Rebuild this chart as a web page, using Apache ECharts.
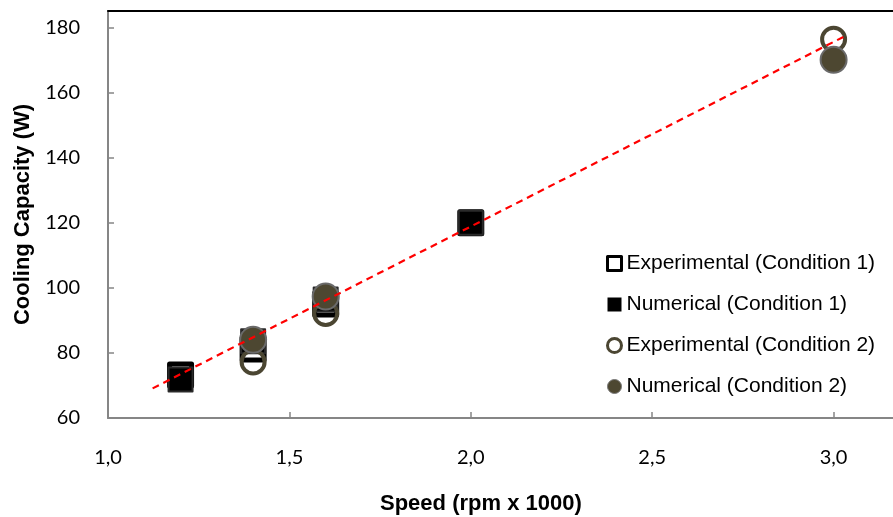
<!DOCTYPE html>
<html>
<head>
<meta charset="utf-8">
<script src="https://cdn.jsdelivr.net/npm/echarts@6.0.0/dist/echarts.min.js"></script>
<style>
  html, body { margin: 0; padding: 0; background: #fff; }
  #chart { width: 893px; height: 517px; }
</style>
</head>
<body>
<div id="chart"></div>
<script>
// speed in rpm x 1000, cooling capacity in W
const speed1 = [1.2, 1.4, 1.6, 2.0];
const expCond1 = [73.2, 81.2, 95.0, 120];
const numCond1 = [71.8, 83.6, 96.4, 120];

const speed2 = [1.4, 1.6, 3.0];
const expCond2 = [77.2, 92.1, 176.3];
const numCond2 = [84.0, 97.3, 170.0];

// linear trend line ends
const trendX = [1.123, 3.037];
const trendY = [69.1, 177.6];

const yTicks = { min: 60, max: 185, step: 20 };
const xTicks = { min: 1.0, max: 3.5, step: 0.5 };

const chart = echarts.init(document.getElementById('chart'));

const pairs = (xs, ys) => xs.map((x, i) => [x, ys[i]]);
const olive = '#4b4632';

const option = {
  animation: false,
  grid: { left: 108, top: 11, width: 907, height: 407, containLabel: false, outerBoundsMode: 'none' },
  legend: {
    orient: 'vertical',
    left: 606,
    top: 253,
    padding: 0,
    itemWidth: 14,
    itemHeight: 14,
    itemGap: 20,
    textStyle: { fontFamily: '"Liberation Sans", Arial, sans-serif', fontSize: 21, color: '#000' },
    data: [
      { name: 'Experimental (Condition 1)', icon: 'rect', itemStyle: { color: '#fff', borderColor: '#000', borderWidth: 3 } },
      { name: 'Numerical (Condition 1)', icon: 'rect', itemStyle: { color: '#000', borderWidth: 0 } },
      { name: 'Experimental (Condition 2)', icon: 'circle', itemStyle: { color: '#fff', borderColor: olive, borderWidth: 3 } },
      { name: 'Numerical (Condition 2)', icon: 'circle', itemStyle: { color: '#4d4731', borderColor: '#777', borderWidth: 1 } }
    ]
  },
  xAxis: [
    {
      type: 'value',
      min: xTicks.min,
      max: xTicks.max,
      interval: xTicks.step,
      splitLine: { show: false },
      axisLine: { lineStyle: { color: '#868686', width: 2 } },
      axisTick: { inside: true, length: 6, lineStyle: { color: '#868686', width: 1.5 } },
      axisLabel: {
        margin: 30,
        fontFamily: 'Lato',
        fontSize: 20,
        color: '#000',
        formatter: v => v.toFixed(1).replace('.', ',')
      }
    },
    {
      // top frame line
      type: 'value',
      position: 'top',
      min: xTicks.min,
      max: xTicks.max,
      splitLine: { show: false },
      axisLine: { lineStyle: { color: '#000', width: 2 } },
      axisTick: { show: false },
      axisLabel: { show: false }
    }
  ],
  yAxis: {
    type: 'value',
    min: yTicks.min,
    max: yTicks.max,
    interval: yTicks.step,
    splitLine: { show: false },
    axisLine: { show: true, lineStyle: { color: '#868686', width: 2 } },
    axisTick: { show: true, inside: true, length: 6, lineStyle: { color: '#868686', width: 1.5 } },
    axisLabel: {
      margin: 28,
      fontFamily: 'Lato',
      fontSize: 20,
      color: '#000',
      showMaxLabel: false
    },
    name: 'Cooling Capacity (W)',
    nameLocation: 'middle',
    nameRotate: 90,
    nameGap: 73,
    nameTextStyle: { fontFamily: '"Liberation Sans", Arial, sans-serif', fontWeight: 'bold', fontSize: 22, color: '#000' }
  },
  graphic: [
    {
      type: 'text',
      left: 380,
      top: 493,
      style: {
        text: 'Speed (rpm x 1000)',
        font: 'bold 22px "Liberation Sans", Arial',
        fill: '#000'
      }
    }
  ],
  series: [
    {
      name: 'Experimental (Condition 1)',
      type: 'scatter',
      symbol: 'rect',
      symbolSize: 22,
      itemStyle: { color: '#fff', borderColor: '#000', borderWidth: 5, borderJoin: 'round', opacity: 1 },
      emphasis: { disabled: true },
      data: pairs(speed1, expCond1)
    },
    {
      name: 'Numerical (Condition 1)',
      type: 'scatter',
      symbol: 'rect',
      symbolSize: 24,
      itemStyle: { color: '#000', borderColor: '#2a2a2a', borderWidth: 2, borderJoin: 'round', opacity: 1 },
      emphasis: { disabled: true },
      data: pairs(speed1, numCond1)
    },
    {
      name: 'Experimental (Condition 2)',
      type: 'scatter',
      symbol: 'circle',
      symbolSize: 23,
      itemStyle: { color: 'transparent', borderColor: olive, borderWidth: 4, opacity: 1 },
      emphasis: { disabled: true },
      data: pairs(speed2, expCond2)
    },
    {
      name: 'Numerical (Condition 2)',
      type: 'scatter',
      symbol: 'circle',
      symbolSize: 26,
      itemStyle: { color: '#4d4731', borderColor: '#6a6a6a', borderWidth: 2, opacity: 1 },
      emphasis: { disabled: true },
      data: pairs(speed2, numCond2)
    },
    {
      name: 'trend',
      type: 'line',
      symbol: 'none',
      z: 5,
      lineStyle: { color: '#ff0000', width: 2.2, type: [7, 5] },
      emphasis: { disabled: true },
      data: pairs(trendX, trendY)
    }
  ]
};

chart.setOption(option);
</script>
</body>
</html>
